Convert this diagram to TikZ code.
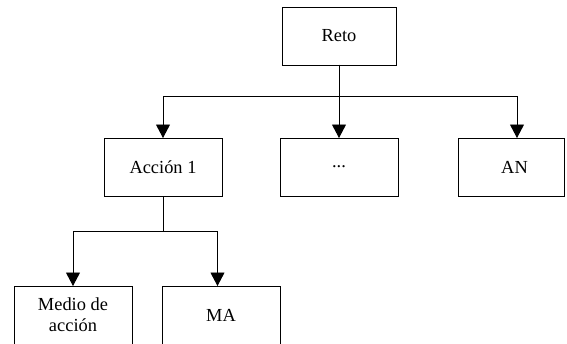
\documentclass[tikz,border=0pt]{standalone}
\usepackage{fontspec}
\setmainfont{Liberation Serif}
\usepackage{tikz}
\usetikzlibrary{arrows.meta,positioning,calc}

\begin{document}
\begin{tikzpicture}[node distance=58pt, line width=0.9pt,
  every node/.style={font=\fontsize{18.4}{21}\selectfont},
  caja/.style={draw, outer sep=0pt, minimum width=118pt, minimum height=58pt, align=center},
  flecha/.style={-{Triangle[length=13.5pt,width=14pt]}}]
\useasboundingbox (-163pt,-176pt) rectangle (404pt,167pt);
\node[caja] (accion) at (0,0) {Acción 1};
\node[caja, right=of accion] (dots) {...};
\node[caja, right=60pt of dots, minimum width=106pt] (an) {\hspace*{7pt}AN};
\node[caja, above=73pt of dots, minimum width=114pt] (reto) {Reto};
\node[caja, below=90pt of accion, xshift=-90pt] (medio) {Medio de\\acción};
\node[caja, right=30pt of medio] (ma) {MA};

\draw[flecha] (reto.south) -- (dots.north);
\draw[flecha] (reto.south) -- ++(0,-31pt) -| (accion.north);
\draw[flecha] (reto.south) -- ++(0,-31pt) -| ([xshift=6pt]an.north);
\draw[flecha] (accion.south) -- ++(0,-35pt) -| (medio.north);
\draw[flecha] (accion.south) -- ++(0,-35pt) -| ([xshift=-3.5pt]ma.north);
\end{tikzpicture}
\end{document}
